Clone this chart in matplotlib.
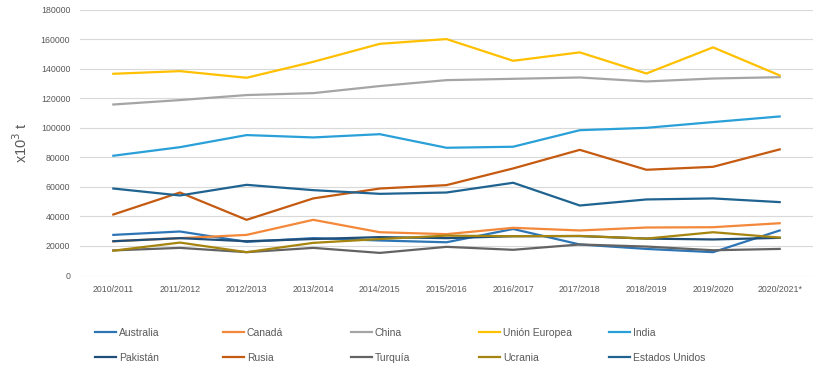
import matplotlib
matplotlib.use("Agg")
import matplotlib.pyplot as plt

plt.rcParams['font.family'] = ['Liberation Sans', 'DejaVu Sans']

campaigns = ["2010/2011", "2011/2012", "2012/2013", "2013/2014", "2014/2015",
             "2015/2016", "2016/2017", "2017/2018", "2018/2019", "2019/2020", "2020/2021*"]

australia = [27500, 29800, 22800, 25300, 23700, 22500, 31500, 21000, 18000, 15800, 30500]
canada = [23200, 25300, 27500, 37700, 29300, 28000, 32300, 30500, 32500, 32700, 35400]
china = [115800, 118800, 122200, 123500, 128300, 132300, 133200, 134100, 131400, 133400, 134300]
union_europea = [136600, 138400, 133900, 144700, 156900, 160100, 145400, 151100, 136800, 154500, 135500]
india = [81100, 86900, 95100, 93500, 95700, 86500, 87200, 98400, 100000, 103900, 107700]
pakistan = [23200, 25300, 23200, 24700, 26000, 25300, 26600, 26700, 25000, 24400, 25500]
rusia = [41300, 56200, 37700, 52200, 58900, 61200, 72500, 85100, 71600, 73600, 85400]
turquia = [17000, 18700, 15800, 18700, 15300, 19400, 17400, 21000, 19600, 17100, 18000]
ucrania = [16800, 22300, 15800, 22100, 24700, 27000, 26600, 26800, 25000, 29300, 25700]
estados_unidos = [58900, 54200, 61400, 57800, 55300, 56200, 62800, 47400, 51500, 52200, 49700]

series_names = ["Australia", "Canadá", "China", "Unión Europea", "India",
                "Pakistán", "Rusia", "Turquía", "Ucrania", "Estados Unidos"]
series_values = [australia, canada, china, union_europea, india,
                 pakistan, rusia, turquia, ucrania, estados_unidos]
colors = ["#2E75B6", "#F4883A", "#A5A5A5", "#FFC000", "#2AA0D8",
          "#1F4E79", "#C55A11", "#636363", "#A5850F", "#1F6391"]

fig = plt.figure(figsize=(8.2, 3.74), dpi=100)
ax = fig.add_axes([80/820, 1-275.5/374, 733/820, 265.8/374])

x = list(range(len(campaigns)))
handles = []
for name, vals, c in zip(series_names, series_values, colors):
    h, = ax.plot(x, vals, color=c, lw=1.6, label=name, solid_joinstyle='round')
    handles.append(h)

ax.set_xlim(-0.5, len(campaigns) - 0.5)
ax.set_ylim(0, 180000)
ax.set_yticks(range(0, 180001, 20000))
ax.set_xticks(x)
ax.set_xticklabels(campaigns)
ax.grid(axis='y', color='#D9D9D9', lw=0.8)
ax.set_axisbelow(True)
for s in ax.spines.values():
    s.set_visible(False)
ax.tick_params(axis='both', length=0, labelsize=6.3, colors='#595959')
ax.tick_params(axis='y', pad=7)
ax.tick_params(axis='x', pad=7)
ax.set_ylabel("x10$^3$ t", fontsize=10.5, color='#595959', labelpad=8)

col_x = [95, 223, 351, 479, 609]
for i in range(5):
    fig.legend([handles[i], handles[i + 5]], [series_names[i], series_names[i + 5]],
               loc='upper left', bbox_to_anchor=(col_x[i] / 820, 1 - 328 / 374),
               frameon=False, fontsize=7.5, handlelength=2.0, handletextpad=0.3,
               labelspacing=1.45, borderpad=0, borderaxespad=0, labelcolor='#595959')

fig.savefig("out.png", dpi=100)
